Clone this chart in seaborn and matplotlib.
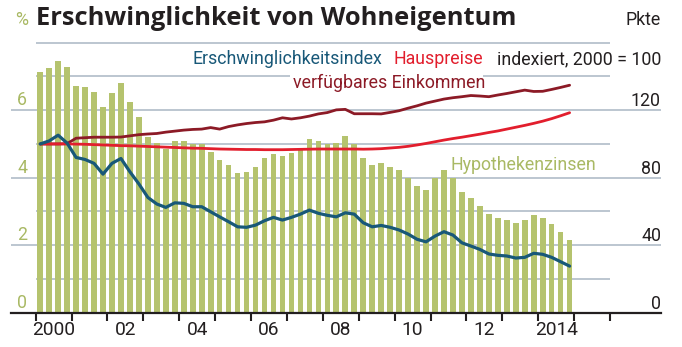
import numpy as np
import pandas as pd
import matplotlib
matplotlib.use("Agg")
import matplotlib.pyplot as plt
import matplotlib.transforms as mtransforms
from matplotlib import font_manager as fm
import seaborn as sns

# ---------------- data (quarterly, 2000Q1 .. 2014Q4) ----------------
years = list(range(2000, 2015))
quarters = [1, 2, 3, 4]

# Hypothekenzinsen, % (left axis)
mortgage_rate = [7.12, 7.24, 7.45, 7.29, 6.73, 6.68, 6.53, 6.10, 6.52, 6.80, 6.23, 5.79,
                 5.22, 5.04, 4.84, 5.08, 5.08, 4.99, 4.99, 4.77, 4.52, 4.38, 4.13, 4.16,
                 4.33, 4.58, 4.71, 4.64, 4.74, 4.84, 5.16, 5.08, 4.99, 5.02, 5.24, 4.99,
                 4.58, 4.38, 4.45, 4.33, 4.22, 4.00, 3.75, 3.63, 4.00, 4.22, 4.00, 3.59,
                 3.39, 3.17, 2.91, 2.82, 2.76, 2.66, 2.74, 2.90, 2.81, 2.63, 2.39, 2.16]

# Erschwinglichkeitsindex, 2000 = 100 (right axis)
affordability_index = [100.0, 101.8, 105.2, 100.5, 92.0, 90.8, 88.5, 82.1, 88.5, 91.4, 83.5, 76.3,
                       68.3, 64.4, 62.4, 65.1, 64.8, 62.8, 62.8, 59.8, 56.8, 53.9, 50.9, 50.6,
                       51.9, 54.5, 56.5, 54.9, 56.5, 58.4, 60.8, 58.9, 57.7, 56.8, 59.2, 58.4,
                       53.3, 50.9, 51.7, 50.6, 49.0, 46.6, 43.5, 42.0, 45.4, 48.0, 46.0, 41.4,
                       39.5, 37.5, 34.8, 34.0, 33.6, 32.4, 32.8, 35.2, 34.6, 32.8, 30.2, 27.6]

# Hauspreise, 2000 = 100
house_prices = [100.0, 100.0, 100.0, 100.0, 99.9, 99.8, 99.6, 99.4, 99.2, 99.0, 98.9, 98.7,
                98.5, 98.3, 98.1, 97.9, 97.7, 97.5, 97.4, 97.2, 97.0, 96.9, 96.8, 96.7,
                96.7, 96.6, 96.6, 96.6, 96.7, 96.8, 96.9, 97.0, 97.0, 97.0, 97.0, 97.0,
                96.9, 97.0, 97.2, 97.6, 98.0, 98.6, 99.4, 100.3, 101.3, 102.3, 103.2, 104.0,
                104.9, 105.8, 106.8, 107.7, 108.8, 109.9, 111.0, 112.2, 113.5, 115.0, 116.7, 118.5]

# verfügbares Einkommen, 2000 = 100
disposable_income = [100.0, 100.0, 100.0, 100.2, 103.4, 103.7, 104.0, 104.0, 104.0, 104.1, 104.8, 105.5,
                     105.9, 106.2, 107.0, 107.6, 108.2, 108.6, 108.8, 109.7, 108.8, 110.3, 111.3, 112.1,
                     112.7, 113.1, 114.1, 115.5, 114.8, 115.5, 116.5, 117.8, 118.6, 120.2, 120.5, 117.9,
                     117.9, 117.9, 117.8, 118.7, 119.7, 121.2, 122.6, 124.2, 125.4, 126.6, 127.4, 128.0,
                     128.7, 128.4, 128.0, 129.0, 129.9, 130.9, 131.9, 131.1, 131.2, 132.3, 133.5, 134.8]

year_label_years = [2000, 2002, 2004, 2006, 2008, 2010, 2012, 2014]
year_labels = ["2000", "02", "04", "06", "08", "10", "12", "2014"]
left_ticks = [0, 2, 4, 6]
right_ticks = [0, 40, 80, 120]

title_text = "Erschwinglichkeit von Wohneigentum"

# ---------------- style ----------------
GREEN = "#b5c36e"
GREEN_TXT = "#a9b964"
BLUE = "#185878"
RED = "#e21e2d"
DARKRED = "#8c1a26"
GRID = "#aab6c3"
BLACK = "#231f20"

sns.set_theme(style="white")
names = {f.name for f in fm.fontManager.ttflist}
for cand in ["Liberation Sans Narrow", "Roboto", "Liberation Sans"]:
    if cand in names:
        NARROW_FAMILY = cand
        break
else:
    NARROW_FAMILY = "DejaVu Sans"
plt.rcParams["font.family"] = [NARROW_FAMILY, "DejaVu Sans"]
TITLE_FONT = ["Open Sans", "DejaVu Sans"] if "Open Sans" in names else ["DejaVu Sans"]

df = pd.DataFrame({"year": np.repeat(years, len(quarters)),
                   "q": np.tile(quarters, len(years))})
df["t"] = df["year"] + (df["q"] - 0.5) / 4
df["rate"] = mortgage_rate
df["afford"] = affordability_index
df["house"] = house_prices
df["income"] = disposable_income

W, H = 682, 347
fig = plt.figure(figsize=(W / 100, H / 100), dpi=100)
px0, px1 = 11, 661
py_base, py_top = 312.7, 42.7
ax = fig.add_axes([px0 / W, 1 - py_base / H, (px1 - px0) / W, (py_base - py_top) / H])
XMIN, XMAX = 1999.312, 2017.421
ax.set_xlim(XMIN, XMAX)
ax.set_ylim(0, 8)


def xdata(px):
    return XMIN + (px - px0) / (px1 - px0) * (XMAX - XMIN)


# gridlines
for v in [1, 3, 5, 8]:
    ax.hlines(v, 2000, 2016, color=GRID, lw=1.1, zorder=0.5, clip_on=False)
ax.hlines(7, 2000, xdata(290), color=GRID, lw=1.1, zorder=0.5, clip_on=False)
ax.hlines(7, xdata(483), 2016, color=GRID, lw=1.1, zorder=0.5, clip_on=False)
for v in [2, 4, 6]:
    ax.axhline(v, color=GRID, lw=1.1, zorder=0.5)

# bars
sns.barplot(data=df, x="t", y="rate", native_scale=True, orient="x", width=0.63,
            color=GREEN, saturation=1, linewidth=0, ax=ax, zorder=1)
ax.set_xlim(XMIN, XMAX)
ax.set_ylim(0, 8)

# lines
ax2 = ax.twinx()
sns.lineplot(data=df, x="t", y="income", color=DARKRED, lw=2.0, ax=ax2, errorbar=None)
sns.lineplot(data=df, x="t", y="house", color=RED, lw=2.0, ax=ax2, errorbar=None)
sns.lineplot(data=df, x="t", y="afford", color=BLUE, lw=2.3, ax=ax2, errorbar=None)
ax2.set_ylim(0, 160)
ax2.set_xlim(XMIN, XMAX)

for a in (ax, ax2):
    a.set_xlabel("")
    a.set_ylabel("")
    a.set_yticks([])
    for s in a.spines.values():
        s.set_visible(False)
ax.spines["bottom"].set_visible(True)
ax.spines["bottom"].set_color(BLACK)
ax.spines["bottom"].set_linewidth(1.6)

ax.set_xticks(list(range(2000, 2017)))
ax.set_xticklabels([])
ax.set_xticks([y + 0.5 for y in year_label_years], minor=True)
ax.set_xticklabels(year_labels, minor=True)
ax.tick_params(axis="x", which="major", direction="out", length=6, width=1.5,
               color=BLACK, bottom=True)
ax.tick_params(axis="x", which="minor", length=0, pad=6.0, labelsize=15,
               labelcolor=BLACK, bottom=True)

narrow = []
# left axis labels (above their gridlines)
offL = mtransforms.ScaledTranslation(0, 5 / 100, fig.dpi_scale_trans)
for v in left_ticks:
    narrow.append(ax.text((17 - px0) / (px1 - px0), v, str(v), color=GREEN_TXT,
                          ha="left", va="baseline", fontsize=15,
                          transform=ax.get_yaxis_transform() + offL))
offR = mtransforms.ScaledTranslation(0, 4 / 100, fig.dpi_scale_trans)
for v in right_ticks:
    narrow.append(ax2.text(1.0, v, str(v), color=BLACK, ha="right", va="baseline",
                           fontsize=15, transform=ax2.get_yaxis_transform() + offR))


def ftext(x, y, s, **kw):
    return fig.text(x / W, 1 - y / H, s, va="baseline", fontsize=15, **kw)


title = fig.text(36 / W, 1 - 25 / H, title_text, va="baseline", ha="left",
                 fontsize=20, fontweight="bold", family=TITLE_FONT, color=BLACK)
narrow.append(ftext(15, 25, "%", color=GREEN_TXT, ha="left"))
narrow.append(ftext(661, 25, "Pkte", color=BLACK, ha="right"))
t_ind = ftext(192, 64, "Erschwinglichkeitsindex", color=BLUE, ha="left")
narrow.append(t_ind)
narrow.append(ftext(393, 64, "Hauspreise", color=RED, ha="left"))
narrow.append(ftext(661, 64, "indexiert, 2000 = 100", color=BLACK, ha="right"))
narrow.append(ftext(293, 88.3, "verfügbares Einkommen", color=DARKRED, ha="left"))
narrow.append(ftext(450, 170, "Hypothekenzinsen", color=GREEN_TXT, ha="left"))

# fit font sizes to the reference text widths
fig.canvas.draw()
r = fig.canvas.get_renderer()
fs = 15 * 190 / t_ind.get_window_extent(r).width
for t in narrow:
    t.set_fontsize(fs)
ax.tick_params(axis="x", which="minor", labelsize=fs * 1.08)
title.set_fontsize(title.get_fontsize() * 479 / title.get_window_extent(r).width)

fig.savefig("out.png", dpi=100)
